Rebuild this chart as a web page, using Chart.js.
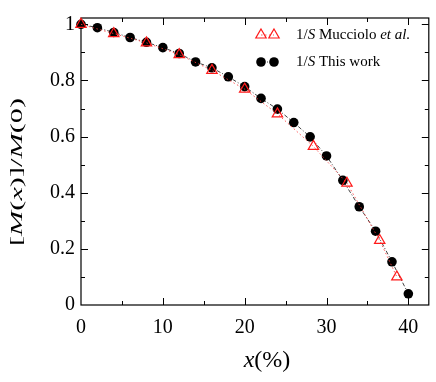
<!DOCTYPE html>
<html>
<head>
<meta charset="utf-8">
<script src="https://cdn.jsdelivr.net/npm/chart.js@4"></script>
<style>
  html, body { margin: 0; padding: 0; background: #fff; }
  #wrap { width: 436px; height: 382px; }
</style>
</head>
<body>
<div id="wrap"><canvas id="chart" width="436" height="382"></canvas></div>
<script>
// x values (%) and normalized moment
const xThisWork = [0, 2, 4, 6, 8, 10, 12, 14, 16, 18, 20, 22, 24, 26, 28, 30, 32, 34, 36, 38, 40];
const mThisWork = [1.0, 0.988, 0.971, 0.953, 0.936, 0.917, 0.896, 0.866, 0.845, 0.813, 0.778,
                   0.736, 0.698, 0.650, 0.599, 0.531, 0.444, 0.350, 0.263, 0.154, 0.040];

const xMucciolo = [0, 4, 8, 12, 16, 20, 24, 28.4, 32.5, 36.5, 38.6];
const mMucciolo = [1.0, 0.967, 0.934, 0.892, 0.836, 0.769, 0.681, 0.565, 0.434, 0.230, 0.100];

const xTickLabels = [0, 10, 20, 30, 40];
const yTickLabels = [0, 0.2, 0.4, 0.6, 0.8, 1];

const SERIF = '"Liberation Serif", "DejaVu Serif", serif';

function pts(xs, ys) {
  return xs.map((x, i) => ({ x: x, y: ys[i] }));
}

// draws a run of text pieces with their own fonts, left to right
function drawRich(ctx, parts, x, y) {
  let cx = x;
  parts.forEach(([txt, font]) => {
    ctx.font = font;
    ctx.fillText(txt, cx, y);
    cx += ctx.measureText(txt).width;
  });
  return cx - x;
}
function richWidth(ctx, parts) {
  let w = 0;
  parts.forEach(([txt, font]) => { ctx.font = font; w += ctx.measureText(txt).width; });
  return w;
}

// frame, inward ticks on all four sides
const framePlugin = {
  id: 'frame',
  beforeDatasetsDraw(chart) {
    const { ctx, chartArea: a, scales } = chart;
    ctx.save();
    ctx.strokeStyle = '#000';
    ctx.lineWidth = 1.2;
    ctx.strokeRect(a.left, a.top, a.right - a.left, a.bottom - a.top);
    ctx.lineWidth = 1;
    for (let v = 5; v <= 40; v += 5) {
      const px = Math.round(scales.x.getPixelForValue(v)) + 0.5;
      const len = v % 10 === 0 ? 7 : 4;
      ctx.beginPath();
      ctx.moveTo(px, a.bottom); ctx.lineTo(px, a.bottom - len);
      ctx.moveTo(px, a.top); ctx.lineTo(px, a.top + len);
      ctx.stroke();
    }
    for (let k = 1; k <= 10; k++) {
      const v = k / 10;
      const py = Math.round(scales.y.getPixelForValue(v)) + 0.5;
      const len = k % 2 === 0 ? 7 : 4;
      ctx.beginPath();
      ctx.moveTo(a.left, py); ctx.lineTo(a.left + len, py);
      ctx.moveTo(a.right, py); ctx.lineTo(a.right - len, py);
      ctx.stroke();
    }
    ctx.restore();
  },
  afterDraw(chart) {
    const ctx = chart.ctx;
    ctx.save();
    ctx.fillStyle = '#000';
    ctx.textBaseline = 'middle';

    // x axis title
    const xt = [['x', 'italic 24px ' + SERIF], ['(%)', '24px ' + SERIF]];
    drawRich(ctx, xt, 267 - richWidth(ctx, xt) / 2, 361);

    // y axis title, rotated and stretched like the source figure
    const yt = [['[', '17px ' + SERIF], ['M', 'italic 17px ' + SERIF], ['(', '17px ' + SERIF],
                ['x', 'italic 17px ' + SERIF], [')]/', '17px ' + SERIF], ['M', 'italic 17px ' + SERIF],
                ['(0)', '17px ' + SERIF]];
    const w = richWidth(ctx, yt);
    ctx.translate(18, 172);
    ctx.rotate(-Math.PI / 2);
    ctx.scale(148 / w, 1);
    drawRich(ctx, yt, -w / 2, 0);
    ctx.restore();

    // legend
    ctx.save();
    const ds = chart.data.datasets;
    const rows = [
      { d: ds[0], y: 35, parts: [['1/', '15px ' + SERIF], ['S', 'italic 15px ' + SERIF],
                                 [' Mucciolo ', '15px ' + SERIF], ['et al.', 'italic 15px ' + SERIF]] },
      { d: ds[1], y: 62, parts: [['1/', '15px ' + SERIF], ['S', 'italic 15px ' + SERIF],
                                 [' This work', '15px ' + SERIF]] }
    ];
    rows.forEach(r => {
      ctx.strokeStyle = r.d.borderColor;
      ctx.lineWidth = 1;
      ctx.setLineDash(r.d.borderDash);
      ctx.beginPath();
      ctx.moveTo(261, r.y); ctx.lineTo(274, r.y);
      ctx.stroke();
      ctx.setLineDash([]);
      [261, 274].forEach(px => {
        ctx.strokeStyle = r.d.pointBorderColor;
        ctx.fillStyle = r.d.pointBackgroundColor;
        ctx.lineWidth = r.d.pointBorderWidth;
        Chart.helpers.drawPoint(ctx, { pointStyle: r.d.pointStyle, radius: r.d.pointRadius, rotation: 0, borderWidth: r.d.pointBorderWidth }, px, r.y);
      });
      ctx.fillStyle = '#000';
      ctx.textBaseline = 'middle';
      drawRich(ctx, r.parts, 296, r.y);
    });
    ctx.restore();
  }
};

const chart = new Chart(document.getElementById('chart'), {
  type: 'scatter',
  data: {
    datasets: [
      {
        label: '1/S Mucciolo et al.',
        data: pts(xMucciolo, mMucciolo),
        showLine: true,
        order: 0,
        clip: false,
        borderColor: 'rgba(255,60,60,0.85)',
        borderWidth: 1,
        borderDash: [1.5, 2.5],
        pointStyle: 'triangle',
        pointRadius: 6,
        pointBorderWidth: 1.2,
        pointBorderColor: '#ff1a1a',
        pointBackgroundColor: 'rgba(0,0,0,0)'
      },
      {
        label: '1/S This work',
        data: pts(xThisWork, mThisWork),
        showLine: true,
        order: 1,
        clip: false,
        borderColor: '#444',
        borderWidth: 1,
        borderDash: [4, 2, 1, 2],
        pointStyle: 'circle',
        pointRadius: 4.8,
        pointBorderWidth: 0,
        pointBorderColor: '#000',
        pointBackgroundColor: '#000'
      }
    ]
  },
  options: {
    responsive: false,
    animation: false,
    layout: { padding: { left: 0, top: 14, right: 3, bottom: 0 } },
    plugins: { legend: { display: false }, tooltip: { enabled: false } },
    scales: {
      x: {
        type: 'linear',
        min: 0,
        max: 42.5,
        grid: { display: false, drawTicks: false },
        border: { display: false },
        afterFit: (s) => { s.height = 77; },
        afterBuildTicks: (s) => { s.ticks = xTickLabels.map(v => ({ value: v })); },
        ticks: {
          color: '#000',
          padding: 11,
          maxRotation: 0,
          font: { family: SERIF, size: 20 }
        }
      },
      y: {
        type: 'linear',
        min: 0,
        max: 1.0225,
        grid: { display: false, drawTicks: false },
        border: { display: false },
        afterFit: (s) => { s.width = 81; },
        afterBuildTicks: (s) => { s.ticks = yTickLabels.map(v => ({ value: v })); },
        ticks: {
          color: '#000',
          padding: 6,
          font: { family: SERIF, size: 20 },
          callback: (v) => (v === 0 || v === 1) ? String(v) : v.toFixed(1)
        }
      }
    }
  },
  plugins: [framePlugin]
});
</script>
</body>
</html>
